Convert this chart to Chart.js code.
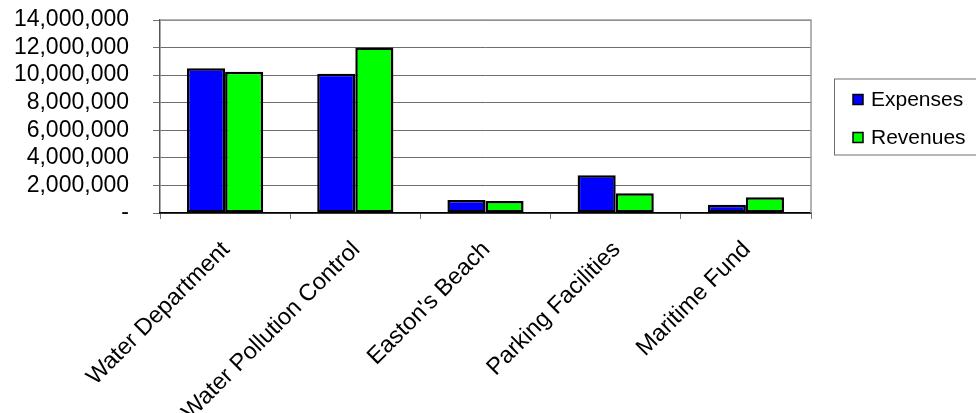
<!DOCTYPE html>
<html>
<head>
<meta charset="utf-8">
<script src="https://cdn.jsdelivr.net/npm/chart.js@4.4.0/dist/chart.umd.min.js"></script>
<style>
  html, body { margin: 0; padding: 0; background: #fff; }
  #chartBox { width: 976px; height: 413px; }
</style>
</head>
<body>
<div id="chartBox"><canvas id="myChart" width="976" height="413"></canvas></div>
<script>
// data
var categories = ['Water Department', 'Water Pollution Control', "Easton's Beach", 'Parking Facilities', 'Maritime Fund'];
var expenses = [10500000, 10100000, 940000, 2730000, 600000];
var revenues = [10250000, 12000000, 870000, 1430000, 1140000];
var yMax = 14000000;
var yStep = 2000000;

var FONT = "'Liberation Sans', Arial, sans-serif";

// legend drawn with a frame, like the original
const boxLegend = {
  id: 'boxLegend',
  afterDraw(chart) {
    const ctx = chart.ctx;
    const area = chart.chartArea;
    const left = area.right + 23;
    const mid = (area.top + area.bottom) / 2;
    const top = mid - 38;
    const h = 76;
    ctx.save();
    ctx.strokeStyle = '#6e6e6e';
    ctx.lineWidth = 1;
    ctx.strokeRect(left + 0.5, top + 0.5, chart.width - left + 5, h);
    ctx.font = '21px ' + FONT;
    ctx.textBaseline = 'middle';
    chart.data.datasets.forEach(function(ds, i) {
      var y = top + 21 + i * 38;
      ctx.fillStyle = ds.backgroundColor;
      ctx.fillRect(left + 19, y - 5, 10, 10);
      ctx.strokeStyle = '#000';
      ctx.lineWidth = 1.5;
      ctx.strokeRect(left + 19, y - 5, 10, 10);
      ctx.fillStyle = '#000';
      ctx.fillText(ds.label, left + 37, y + 1);
    });
    ctx.restore();
  }
};

// plot frame: gray top/right
const frame = {
  id: 'frame',
  afterDatasetsDraw(chart) {
    const ctx = chart.ctx;
    const a = chart.chartArea;
    ctx.save();
    ctx.strokeStyle = '#9a9a9a';
    ctx.lineWidth = 1.5;
    ctx.beginPath();
    ctx.moveTo(a.left, a.top);
    ctx.lineTo(a.right, a.top);
    ctx.lineTo(a.right, a.bottom);
    ctx.stroke();
    ctx.restore();
  }
};

const data = {
  labels: categories,
  datasets: [{
    label: 'Expenses',
    data: expenses,
    backgroundColor: '#0000ff',
    borderColor: '#000',
    borderWidth: 2.5,
    borderSkipped: false
  }, {
    label: 'Revenues',
    data: revenues,
    backgroundColor: '#00ff00',
    borderColor: '#000',
    borderWidth: 2.5,
    borderSkipped: false
  }]
};

const config = {
  type: 'bar',
  data: data,
  options: {
    responsive: false,
    animation: false,
    layout: {
      padding: { top: 20, right: 165, left: 0, bottom: 0 }
    },
    datasets: {
      bar: { categoryPercentage: 0.585, barPercentage: 1.0 }
    },
    plugins: {
      legend: { display: false },
      tooltip: { enabled: false }
    },
    scales: {
      y: {
        min: 0,
        max: yMax,
        ticks: {
          stepSize: yStep,
          autoSkip: false,
          color: '#000',
          padding: 24,
          font: { family: FONT, size: 23 },
          callback: function(v) { return v === 0 ? '-' : v.toLocaleString('en-US'); }
        },
        grid: { color: '#6e6e6e', lineWidth: 1, tickLength: 7, tickColor: '#6e6e6e' },
        border: { color: '#555', width: 1.5 },
        afterFit: function(scale) { scale.width = 160; scale.paddingTop = 0; scale.paddingBottom = 0; }
      },
      x: {
        ticks: {
          color: '#000',
          minRotation: 45,
          maxRotation: 45,
          autoSkip: false,
          padding: 17,
          labelOffset: 1,
          font: { family: FONT, size: 23.5 }
        },
        grid: { drawOnChartArea: false, tickLength: 6, color: '#777' },
        border: { color: '#000', width: 1.5 },
        afterFit: function(scale) { scale.height = 200; scale.paddingTop = 0; scale.paddingLeft = 0; scale.paddingRight = 0; }
      }
    }
  },
  plugins: [frame, boxLegend]
};

const myChart = new Chart(document.getElementById('myChart'), config);
</script>
</body>
</html>
